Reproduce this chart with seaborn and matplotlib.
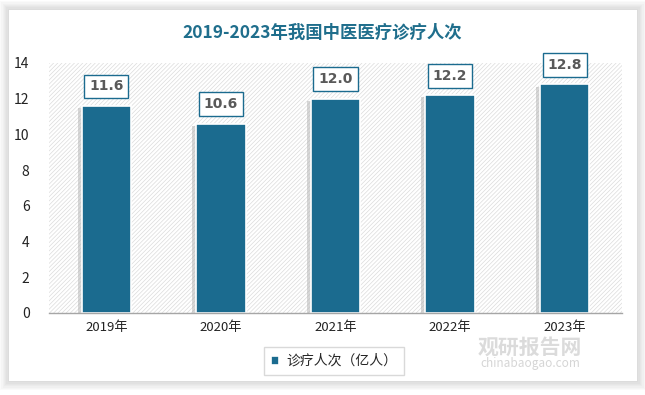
import matplotlib
matplotlib.use("Agg")
import matplotlib.pyplot as plt
import seaborn as sns
import pandas as pd
from matplotlib.patches import Rectangle

years = ["2019年", "2020年", "2021年", "2022年", "2023年"]
visits = [11.6, 10.6, 12.0, 12.2, 12.8]
series_name = "诊疗人次（亿人）"
title = "2019-2023年我国中医医疗诊疗人次"

BAR = "#1b6b8f"
TITLE_C = "#1f6e8c"


def main():
    sns.set_theme(style="white")
    plt.rcParams["font.family"] = ["Noto Sans CJK SC", "DejaVu Sans"]
    plt.rcParams["hatch.linewidth"] = 0.5

    df = pd.DataFrame({"year": years, "visits": visits})

    fig = plt.figure(figsize=(6.45, 3.95), dpi=100)
    fig.patch.set_facecolor("white")

    # card with soft shadow
    for i in range(7):
        d = (i + 1) * 1.3
        fig.patches.append(Rectangle((9 / 645 - d / 645, 1 - 381 / 395 - d / 395),
                                     628 / 645 + 2 * d / 645, 371 / 395 + 2 * d / 395,
                                     transform=fig.transFigure, facecolor="black",
                                     alpha=0.018, edgecolor="none", zorder=-3))
    fig.patches.append(Rectangle((9 / 645, 1 - 381 / 395), 628 / 645, 371 / 395,
                                 transform=fig.transFigure, facecolor="white",
                                 edgecolor="none", zorder=-2))

    ax = fig.add_axes([49 / 645, 1 - 313 / 395, 573 / 645, 250 / 395])
    ax.set_facecolor("none")
    ax.add_patch(Rectangle((0, 0), 1, 1, transform=ax.transAxes, facecolor="white",
                           edgecolor="#dcdcdc", hatch="////////", linewidth=0, zorder=0))

    # shadow bars
    sns.barplot(data=df, x="year", y="visits", color="#b0b0b0", width=0.43,
                ax=ax, zorder=1, alpha=0.5, linewidth=0)
    for p in ax.patches[1:]:
        p.set_x(p.get_x() - 0.035)
        p.set_y(p.get_y() - 0.12)
    sns.barplot(data=df, x="year", y="visits", color=BAR, width=0.43, ax=ax,
                label=series_name, zorder=2, edgecolor="white", linewidth=1.2,
                saturation=1)

    ax.set_ylim(0, 14)
    ax.set_xlim(-0.5, 4.5)
    ax.set_yticks(range(0, 15, 2))
    ax.set_xlabel("")
    ax.set_ylabel("")
    ax.tick_params(axis="y", labelsize=10, colors="#222222", pad=14, length=0)
    ax.tick_params(axis="x", labelsize=9.5, colors="#222222", pad=6, length=0)
    for s in ["top", "right", "left"]:
        ax.spines[s].set_visible(False)
    ax.spines["bottom"].set_color("#a6a6a6")
    ax.spines["bottom"].set_linewidth(1)
    ax.spines["bottom"].set_zorder(3)

    for i, v in enumerate(visits):
        ax.annotate(f"{v:.1f}", (i, v), xytext=(0, 14), textcoords="offset points",
                    ha="center", va="center", fontsize=10, fontweight="bold",
                    color="#595959", family="DejaVu Sans", zorder=5,
                    bbox=dict(boxstyle="square,pad=0.35", facecolor="white",
                              edgecolor=BAR, linewidth=1))

    fig.text(0.5, 1 - 33 / 395, title, ha="center", va="center", fontsize=12.5,
             fontweight="bold", color=TITLE_C)

    leg = ax.legend(loc="center", bbox_to_anchor=(334 / 645, 1 - 361 / 395),
                    bbox_transform=fig.transFigure, fontsize=10, frameon=True,
                    fancybox=False, edgecolor="#d0d0d0", handlelength=0.6,
                    handleheight=0.6, handletextpad=0.5, borderpad=0.5)
    leg.get_frame().set_linewidth(1)

    # watermark
    fig.text(530 / 645, 1 - 347 / 395, "观研报告网", ha="center", va="center",
             fontsize=15, fontweight="bold", color="#c4c4c4", alpha=0.6)
    fig.text(530 / 645, 1 - 364 / 395, "chinabaogao.com", ha="center", va="center",
             fontsize=8.5, color="#c4c4c4", alpha=0.7)

    fig.savefig("out.png", dpi=100)


if __name__ == "__main__":
    main()
